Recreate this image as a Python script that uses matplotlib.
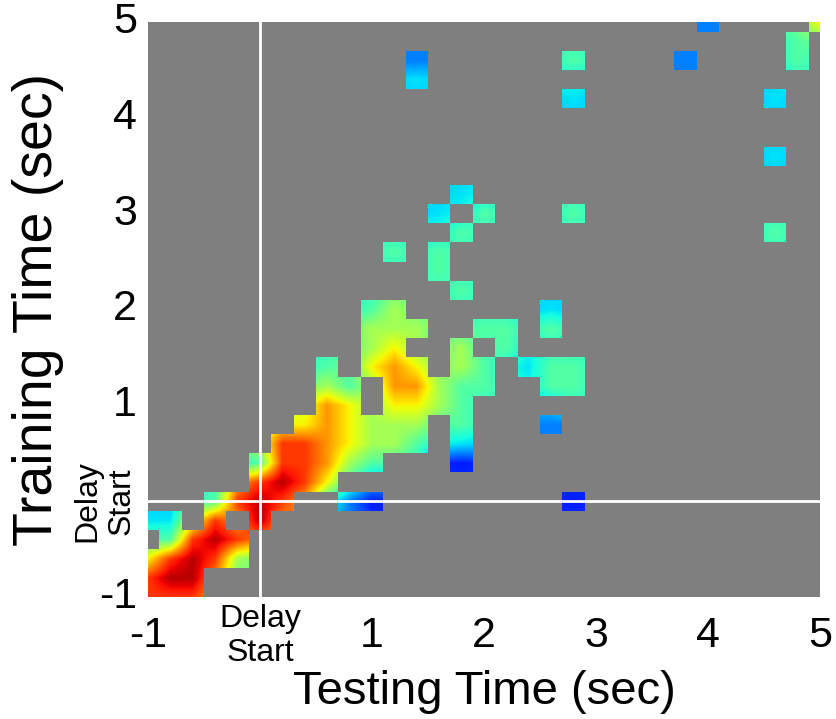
import numpy as np
import matplotlib.pyplot as plt

plt.rcParams['font.family'] = ['Liberation Sans', 'DejaVu Sans']

# Time bins (sec), 0.2 s steps
train_times = np.round(np.arange(-1, 5.01, 0.2), 1)
test_times = np.round(np.arange(-1, 5.01, 0.2), 1)

# significant cells, first string = training time 5.0 s, last = -1.0 s
# columns = testing time -1.0 ... 5.0 s
# '.' = not significant, digit = decoding level (0 low ... 9 high)
sig_rows = [
    "....." "....." "....." "....." "....." "2...." "6",
    "....." "....." "....." "....." "....." "....4" ".",
    "....." "....." "..2.." "....4" "....2" "....4" ".",
    "....." "....." "..3.." "....." "....." "....." ".",
    "....." "....." "....." "....3" "....." "...3." ".",
    "....." "....." "....." "....." "....." "....." ".",
    "....." "....." "....." "....." "....." "....." ".",
    "....." "....." "....." "....." "....." "...3." ".",
    "....." "....." "....." "....." "....." "....." ".",
    "....." "....." "....3" "....." "....." "....." ".",
    "....." "....." "...3." "4...4" "....." "....." ".",
    "....." "....." "....4" "....." "....." "...4." ".",
    "....." "....." ".4.4." "....." "....." "....." ".",
    "....." "....." "...4." "....." "....." "....." ".",
    "....." "....." "....4" "....." "....." "....." ".",
    "....." "....." "45..." "...3." "....." "....." ".",
    "....." "....." "555.." "44.4." "....." "....." ".",
    "....." "....." "56..5" ".4..." "....." "....." ".",
    "....." "...4." "676.5" "4.344" "....." "....." ".",
    "....." "...54" ".7754" "4..44" "....." "....." ".",
    "....." "...76" ".6654" "....." "....." "....." ".",
    "....." "..676" "555.4" "...2." "....." "....." ".",
    "....." ".8876" "554.3" "....." "....." "....." ".",
    "....." "48875" "4...1" "....." "....." "....." ".",
    "....." "8986." "....." "....." "....." "....." ".",
    "...48" "98..2" "1...." "....1" "....." "....." ".",
    "33.8." "9...." "....." "....." "....." "....." ".",
    ".4898" "....." "....." "....." "....." "....." ".",
    "68985" "....." "....." "....." "....." "....." ".",
    "899.." "....." "....." "....." "....." "....." ".",
    "888.." "....." "....." "....." "....." "....." ".",
]

tick_vals = [-1, 0, 1, 2, 3, 4, 5]
tick_text = ["-1", "Delay\nStart", "1", "2", "3", "4", "5"]

# grid of levels -> values 0..1 (row 0 = -1 s)
grid = np.full((len(train_times), len(test_times)), np.nan)
for r, row in enumerate(sig_rows[::-1]):
    for c, ch in enumerate(row):
        if ch != ".":
            grid[r, c] = int(ch) / 10 + 0.05
mask = np.isnan(grid)

# fill the hidden cells from their neighbours so the colours blend smoothly
filled = grid.copy()
while np.isnan(filled).any():
    pad = np.pad(filled, 1, constant_values=np.nan)
    nb = np.stack([pad[:-2, 1:-1], pad[2:, 1:-1], pad[1:-1, :-2], pad[1:-1, 2:]])
    cnt = np.sum(~np.isnan(nb), axis=0)
    mean = np.nansum(nb, axis=0) / np.maximum(cnt, 1)
    upd = np.isnan(filled) & (cnt > 0)
    filled[upd] = mean[upd]
filled[mask] = 0.8 * filled[mask] + 0.2 * 0.25

half = 0.1
ext = [test_times[0] - half, test_times[-1] + half, train_times[0] - half, train_times[-1] + half]

fig = plt.figure(figsize=(8.36, 7.19), dpi=100)
ax = fig.add_axes([148 / 836, 122 / 719, 672 / 836, 575 / 719])
ax.imshow(filled, cmap="jet", vmin=0, vmax=1, origin="lower", extent=ext,
          interpolation="bilinear", aspect="auto")

# grey for the non-significant cells
overlay = np.zeros(grid.shape + (4,))
overlay[mask] = (0.5, 0.5, 0.5, 1.0)
ax.imshow(overlay, origin="lower", extent=ext, interpolation="nearest", aspect="auto")

ax.axvline(0, color="white", lw=2)
ax.axhline(0, color="white", lw=2)
ax.set_xlim(-1, 5)
ax.set_ylim(-1, 5)

ax.set_xticks(tick_vals)
ax.set_xticklabels(tick_text)
ax.set_yticks(tick_vals)
ax.set_yticklabels(tick_text)
ax.tick_params(axis="x", length=0, pad=28)
ax.tick_params(axis="y", length=0, pad=8)
for lab in ax.get_xticklabels():
    lab.set_va("center")
    lab.set_multialignment("center")
    lab.set_fontsize(23 if "\n" in lab.get_text() else 31)
for lab in ax.get_yticklabels():
    lab.set_va("center")
    lab.set_multialignment("center")
    if "\n" in lab.get_text():
        lab.set_fontsize(23)
        lab.set_rotation(90)
    else:
        lab.set_fontsize(31)
for s in ax.spines.values():
    s.set_visible(False)

ax.set_xlabel("Testing Time (sec)", fontsize=34, va="center")
ax.xaxis.set_label_coords(0.5, (719 - 692 - 122) / 575)
ax.set_ylabel("Training Time (sec)", fontsize=40, va="center")
ax.yaxis.set_label_coords((38 - 148) / 672, 0.5)

plt.savefig("out.png", dpi=100)
